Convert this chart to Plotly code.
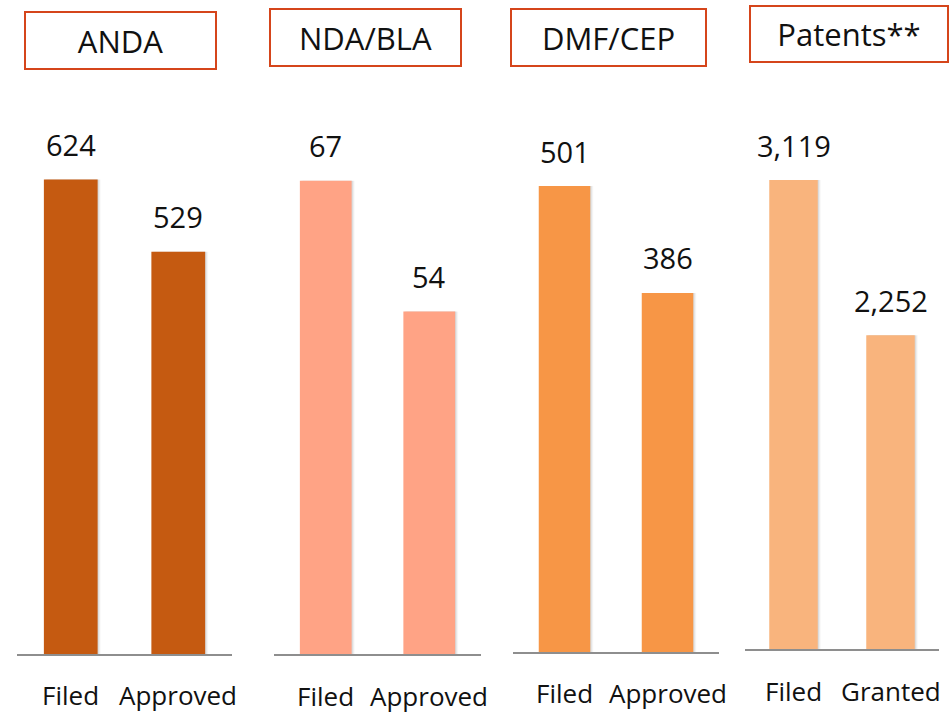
import plotly.graph_objects as go

W, H = 951, 714

# ---- data ----
titles = ["ANDA", "NDA/BLA", "DMF/CEP", "Patents**"]
categories = [
    ["Filed", "Approved"],
    ["Filed", "Approved"],
    ["Filed", "Approved"],
    ["Filed", "Granted"],
]
values = [
    [624, 529],
    [67, 54],
    [501, 386],
    [3119, 2252],
]
axis_floor = [0, 20, 0, 500]          # lower bound of each value axis
bar_colors = ["#C55A11", "#FFA385", "#F79646", "#F9B47D"]

# ---- layout geometry (pixels) ----
panel_x = [(17, 232), (274, 481), (513, 719), (745, 939)]
baseline_y = [654, 654, 652, 649]
tallest_top_y = [179.5, 180.7, 186, 180]
title_box = [(24, 217, 11, 70), (269, 462, 8, 67), (510, 707, 8, 67), (749, 949, 5, 63)]
label_y = [694.5, 695.5, 693, 690.5]
plot_top_px = 90
FONT = "Open Sans, Noto Sans, DejaVu Sans, sans-serif"
BORDER = "#D5451B"


def px_x(p):
    return p / W


def px_y(p):
    return 1 - p / H


fig = go.Figure()
annotations = []

for i in range(4):
    n = "" if i == 0 else str(i + 1)
    xa, ya = "x" + n, "y" + n
    x0, x1 = panel_x[i]
    half_px = (x1 - x0) / 2.0

    # soft drop shadow behind the bars
    for k, (d, a) in enumerate([(1.0, 0.07), (2.0, 0.05), (3.0, 0.035)]):
        fig.add_trace(go.Bar(
            x=categories[i], y=values[i], xaxis=xa, yaxis=ya,
            width=0.5, offset=-0.25 + d / half_px,
            marker=dict(color=f"rgba(0,0,0,{a})", line=dict(width=0)),
            hoverinfo="skip", showlegend=False,
        ))
    fig.add_trace(go.Bar(
        x=categories[i], y=values[i], xaxis=xa, yaxis=ya,
        width=0.5, offset=-0.25,
        marker=dict(color=bar_colors[i], line=dict(width=0)),
        showlegend=False,
    ))

    # axes
    vmax = max(values[i])
    scale = (baseline_y[i] - tallest_top_y[i]) / (vmax - axis_floor[i])
    y_top = axis_floor[i] + (baseline_y[i] - plot_top_px) / scale
    fig.update_layout(**{
        ("xaxis" + n): dict(
            domain=[px_x(x0), px_x(x1)], anchor=ya,
            type="category", range=[-0.5, 1.5],
            showline=True, linecolor="#8E8E8E", linewidth=2,
            showticklabels=False, ticks="", showgrid=False, zeroline=False,
        ),
        ("yaxis" + n): dict(
            domain=[px_y(baseline_y[i]), px_y(plot_top_px)], anchor=xa,
            range=[axis_floor[i], y_top],
            visible=False, showgrid=False, zeroline=False,
        ),
    })

    # value labels above bars
    for c, v in zip(categories[i], values[i]):
        annotations.append(dict(
            x=c, y=v, xref=xa, yref=ya, text=f"{v:,}", showarrow=False,
            xanchor="center", yanchor="middle", yshift=35,
            font=dict(family=FONT, size=29, color="#111111"),
        ))
        annotations.append(dict(
            x=c, y=px_y(label_y[i]), xref=xa, yref="paper", text=c,
            showarrow=False, xanchor="center", yanchor="middle",
            font=dict(family=FONT, size=26, color="#111111"),
        ))

    # boxed panel title
    bx0, bx1, by0, by1 = title_box[i]
    annotations.append(dict(
        x=px_x((bx0 + bx1) / 2), y=px_y((by0 + by1) / 2), xref="paper", yref="paper",
        text=titles[i], showarrow=False, xanchor="center", yanchor="middle",
        width=bx1 - bx0 - 4, height=by1 - by0 - 4, borderpad=0,
        bordercolor=BORDER, borderwidth=2, bgcolor="white",
        font=dict(family=FONT, size=31, color="#111111"),
    ))

fig.update_layout(
    width=W, height=H, autosize=False,
    margin=dict(l=0, r=0, t=0, b=0),
    paper_bgcolor="white", plot_bgcolor="white",
    barmode="overlay", annotations=annotations,
)

fig.write_html("out.html")
